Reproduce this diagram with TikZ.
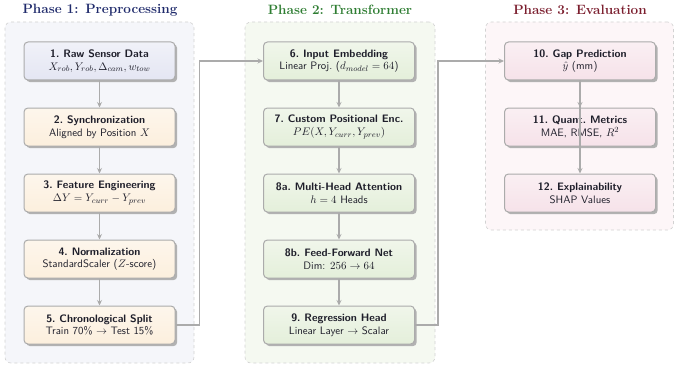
\documentclass[tikz,border=0pt]{standalone}
\usetikzlibrary{shadows,arrows.meta}
\definecolor{tA}{HTML}{1F2A6B}
\definecolor{tB}{HTML}{2E7D32}
\definecolor{tC}{HTML}{7B1E2E}
\definecolor{bgA}{HTML}{F5F6FA}
\definecolor{bgB}{HTML}{F5F9F1}
\definecolor{bgC}{HTML}{FDF6F8}
\definecolor{nA}{HTML}{E4E6F3}
\definecolor{nO}{HTML}{FCEFDD}
\definecolor{nG}{HTML}{E4EFDA}
\definecolor{nP}{HTML}{F6E2E9}
\definecolor{bordc}{HTML}{ABABAB}
\definecolor{dashc}{HTML}{D2D2D2}
\definecolor{connc}{HTML}{ABABAB}
\definecolor{txtc}{HTML}{1E1E2A}
\begin{document}
\begin{tikzpicture}[x=1pt,y=-1pt,
  phasebox/.style={draw=dashc, dashed, rounded corners=6pt, line width=0.6pt},
  phasetitle/.style={font=\fontsize{13.5}{16}\selectfont\bfseries},
  stepbox/.style={draw=bordc, line width=1pt, rounded corners=4pt,
    minimum width=151pt, minimum height=38pt, align=center, text=txtc,
    font=\sffamily\fontsize{10.8}{12.8}\selectfont,
    drop shadow={shadow xshift=2.2pt, shadow yshift=-2.2pt, fill=black!30, opacity=1}},
  sA/.style={stepbox, top color=nA!55!white, bottom color=nA},
  sO/.style={stepbox, top color=nO!55!white, bottom color=nO},
  sG/.style={stepbox, top color=nG!55!white, bottom color=nG},
  sP/.style={stepbox, top color=nP!55!white, bottom color=nP},
  conn/.style={draw=connc, line width=1.1pt, -{Stealth[length=5.5pt,width=5pt]}}
]
\useasboundingbox (0,0) rectangle (680,369);

% phase backgrounds
\node[phasebox, fill=bgA, minimum width=189pt, minimum height=341pt] (pA) at (99.5,192.5) {};
\node[phasebox, fill=bgB, minimum width=190pt, minimum height=341pt] (pB) at (340,192.5) {};
\node[phasebox, fill=bgC, minimum width=188pt, minimum height=208pt] (pC) at (579.5,126) {};

% titles
\node[phasetitle, text=tA] (tiA) at (100,10) {Phase 1: Preprocessing};
\node[phasetitle, text=tB] (tiB) at (340,10) {Phase 2: Transformer};
\node[phasetitle, text=tC] (tiC) at (580,10) {Phase 3: Evaluation};

% phase 1
\node[sA] (n1) at (99.5,61) {\textbf{1.\ Raw Sensor Data}\\$X_{rob}, Y_{rob}, \Delta_{cam}, w_{tow}$};
\node[sO] (n2) at (99.5,127) {\textbf{2.\ Synchronization}\\Aligned by Position $X$};
\node[sO] (n3) at (99.5,193) {\textbf{3.\ Feature Engineering}\\$\Delta Y = Y_{curr} - Y_{prev}$};
\node[sO] (n4) at (99.5,259) {\textbf{4.\ Normalization}\\StandardScaler ($Z$-score)};
\node[sO] (n5) at (99.5,325) {\textbf{5.\ Chronological Split}\\Train 70\% $\rightarrow$ Test 15\%};

% phase 2
\node[sG] (n6) at (339,61) {\textbf{6.\ Input Embedding}\\Linear Proj.\ ($d_{model} = 64$)};
\node[sG] (n7) at (339,127) {\textbf{7.\ Custom Positional Enc.}\\$PE(X, Y_{curr}, Y_{prev})$};
\node[sG] (n8a) at (339,193) {\textbf{8a.\ Multi-Head Attention}\\$h = 4$ Heads};
\node[sG] (n8b) at (339,259) {\textbf{8b.\ Feed-Forward Net}\\Dim: $256 \rightarrow 64$};
\node[sG] (n9) at (339,325) {\textbf{9.\ Regression Head}\\Linear Layer $\rightarrow$ Scalar};

% phase 3
\node[sP] (n10) at (580,61) {\textbf{10.\ Gap Prediction}\\$\hat{y}$ (mm)};
\node[sP] (n11) at (580,127) {\textbf{11.\ Quant.\ Metrics}\\MAE, RMSE, $R^2$};
\node[sP] (n12) at (580,193) {\textbf{12.\ Explainability}\\SHAP Values};

% connectors
\draw[conn] (n1) -- (n2);
\draw[conn] (n2) -- (n3);
\draw[conn] (n3) -- (n4);
\draw[conn] (n4) -- (n5);
\draw[conn] (n5.east) -- ++(24,0) |- (n6.west);
\draw[conn] (n6) -- (n7);
\draw[conn] (n7) -- (n8a);
\draw[conn] (n8a) -- (n8b);
\draw[conn] (n8b) -- (n9);
\draw[conn] (n9.east) -- ++(23,0) |- (n10.west);
\draw[conn] (n10) -- (n11);
\draw[conn] (n10) -- (n12);
\end{tikzpicture}
\end{document}
